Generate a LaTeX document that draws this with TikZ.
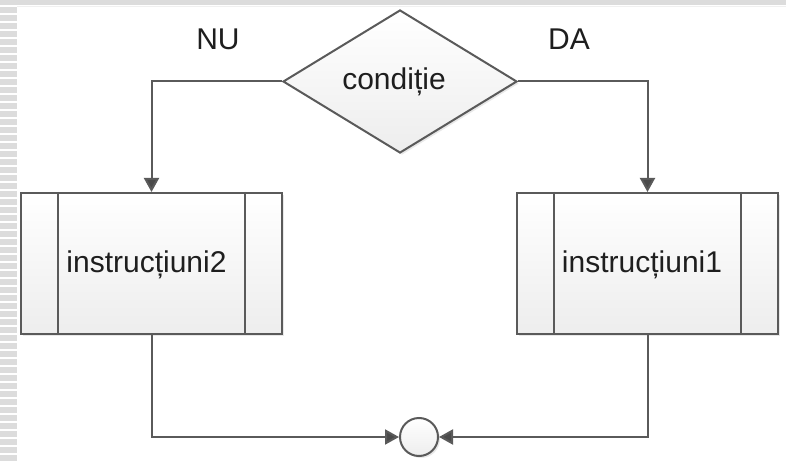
\documentclass[tikz,border=0pt]{standalone}
\usepackage{fontspec}
\setmainfont{Liberation Sans}
\usetikzlibrary{shapes.geometric,arrows.meta,shadows}
\definecolor{linegray}{HTML}{5A5A5A}
\definecolor{arrowgray}{HTML}{4A4A4A}
\definecolor{stripegray}{HTML}{DCDCDC}
\definecolor{txt}{HTML}{1E1E1E}
\tikzset{
  shapefill/.style={top color=white, bottom color=black!7, draw=linegray, line width=2pt,
    drop shadow={opacity=0.18, shadow xshift=2pt, shadow yshift=-2pt}},
  procbox/.style={shapefill, rectangle, minimum width=261pt, minimum height=141pt, inner sep=0pt},
  decision/.style={shapefill, diamond, minimum width=234pt, minimum height=143pt, inner sep=0pt, aspect=1.64},
  joincircle/.style={shapefill, circle, minimum size=38pt, inner sep=0pt},
  conn/.style={draw=linegray, line width=2pt, -{Triangle[length=14pt,width=15pt,fill=arrowgray]}},
  plainline/.style={draw=linegray, line width=2pt},
  lbl/.style={text=txt, font=\fontsize{30}{36}\selectfont, anchor=base, inner sep=0pt}
}
\begin{document}
\begin{tikzpicture}[x=1pt,y=-1pt]
\useasboundingbox (0,0) rectangle (786,462);
% frame decorations
\fill[white] (0,0) rectangle (786,462);
\fill[stripegray] (0,0) rectangle (786,5);
\draw[black!6, line width=1pt] (17,6.5) -- (786,6.5);
\foreach \i in {0,...,56} \fill[stripegray] (0,{7+8*\i}) rectangle (17,{13+8*\i});
% nodes
\node[decision] (D) at (400,81.5) {};
\node[procbox] (L) at (151.5,263.5) {};
\node[procbox] (R) at (647.5,263.5) {};
\node[joincircle] (C) at (419,437) {};
% inner lines of the predefined process boxes
\foreach \n in {L,R}{
  \draw[plainline] ([xshift=38pt]\n.north west) -- ([xshift=38pt]\n.south west);
  \draw[plainline] ([xshift=-38pt]\n.north east) -- ([xshift=-38pt]\n.south east);
}
% texts
\node[lbl] (tc) at (394,90) {condiție};
\node[lbl] (tl) at (146.5,272) {instrucțiuni2};
\node[lbl] (tr) at (642,272) {instrucțiuni1};
\node[lbl] (nu) at (218,50) {NU};
\node[lbl] (da) at (569,50) {DA};
% connectors
\draw[conn] (D.west) -| (L.north);
\draw[conn] (D.east) -| (R.north);
\draw[conn] (L.south) |- (C.west);
\draw[conn] (R.south) |- (C.east);
\end{tikzpicture}
\end{document}
